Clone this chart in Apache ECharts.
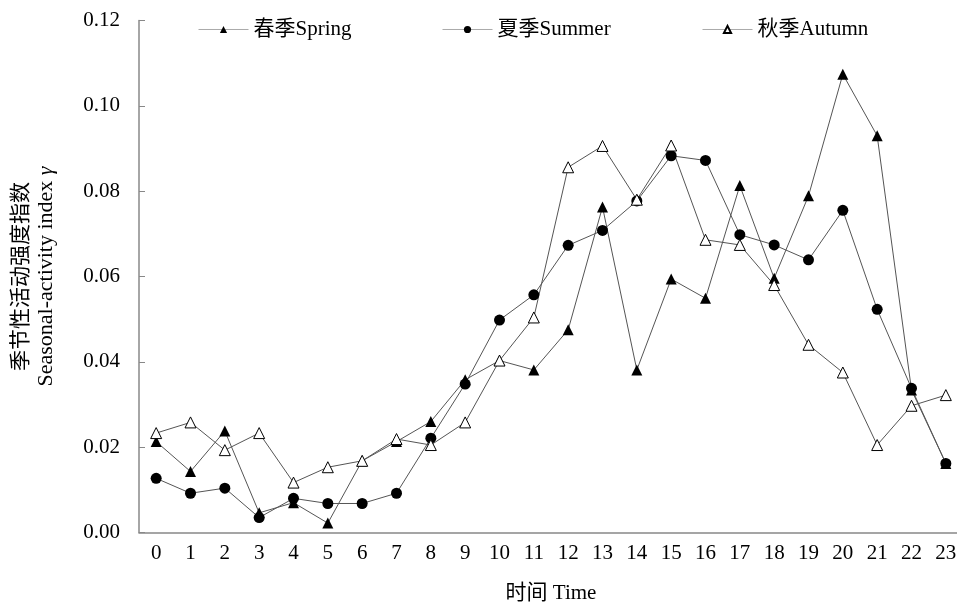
<!DOCTYPE html>
<html>
<head>
<meta charset="utf-8">
<script src="https://cdn.jsdelivr.net/npm/echarts@6/dist/echarts.min.js"></script>
<style>html,body{margin:0;padding:0;background:#fff}#c{width:957px;height:602px}</style>
</head>
<body>
<div id="c"></div>
<script>
var hours = ['0','1','2','3','4','5','6','7','8','9','10','11','12','13','14','15','16','17','18','19','20','21','22','23'];
var spring = [0.0213,0.0143,0.0238,0.0046,0.0070,0.0022,0.0168,0.0213,0.0260,0.0358,0.0403,0.0381,0.0475,0.0763,0.0381,0.0594,0.0549,0.0813,0.0596,0.0789,0.1074,0.0930,0.0334,0.0162];
var summer = [0.0127,0.0092,0.0104,0.0035,0.0080,0.0068,0.0068,0.0092,0.0221,0.0348,0.0498,0.0557,0.0673,0.0708,0.0777,0.0883,0.0872,0.0698,0.0674,0.0639,0.0755,0.0523,0.0338,0.0162];
var autumn = [0.0233,0.0258,0.0193,0.0233,0.0117,0.0153,0.0168,0.0219,0.0205,0.0258,0.0403,0.0504,0.0856,0.0906,0.0780,0.0907,0.0686,0.0674,0.0580,0.0440,0.0375,0.0205,0.0297,0.0322];
var seriesNames = ['春季Spring','夏季Summer','秋季Autumn'];
var yTicks = ['0.00','0.02','0.04','0.06','0.08','0.10','0.12'];

var FONT = '"Liberation Serif","Times New Roman","Noto Sans CJK SC",serif';
var chart = echarts.init(document.getElementById('c'));
function legendOf(name, left) {
  return {
    data: [name], left: left, top: 14, itemWidth: 50, itemHeight: 9, itemGap: 6,
    textStyle: {fontFamily: FONT, fontSize: 21, color: '#000'},
    lineStyle: {color: '#aaa', width: 1}
  };
}
chart.setOption({
  animation: false,
  backgroundColor: '#fff',
  legend: [legendOf(seriesNames[0], 193), legendOf(seriesNames[1], 437), legendOf(seriesNames[2], 697)],
  grid: {left: 139, right: -6, top: 20.5, bottom: 69.5, containLabel: false, outerBoundsMode: 'none'},
  xAxis: {
    type: 'category', data: hours, boundaryGap: true,
    name: '时间 Time', nameLocation: 'middle', nameGap: 50,
    nameTextStyle: {fontFamily: FONT, fontSize: 21, color: '#000'},
    axisLine: {lineStyle: {color: '#888', width: 1.5}},
    axisTick: {inside: true, length: 6, lineStyle: {color: '#888'}},
    axisLabel: {fontFamily: FONT, fontSize: 21, color: '#000', margin: 10},
    splitLine: {show: false}
  },
  yAxis: {
    type: 'value', min: 0, max: 0.12, interval: 0.02,
    name: '{cn|季节性活动强度指数}\n{en|Seasonal-activity index }{it|γ}',
    nameLocation: 'middle', nameRotate: 90, nameGap: 80,
    nameTextStyle: {
      fontFamily: FONT, fontSize: 21, color: '#000', lineHeight: 25,
      rich: {
        cn: {fontFamily: FONT, fontSize: 21, color: '#000', lineHeight: 25},
        en: {fontFamily: FONT, fontSize: 22, color: '#000', lineHeight: 25},
        it: {fontFamily: FONT, fontSize: 22, color: '#000', fontStyle: 'italic', lineHeight: 25}
      }
    },
    axisLine: {show: true, lineStyle: {color: '#888', width: 1.5}},
    axisTick: {show: true, inside: true, length: 6, lineStyle: {color: '#888'}},
    axisLabel: {fontFamily: FONT, fontSize: 21, color: '#000', margin: 19,
      formatter: function (v) { return yTicks[Math.round(v / 0.02)]; }},
    splitLine: {show: false}
  },
  series: [
    {name: seriesNames[0], type: 'line', data: spring, symbol: 'triangle', symbolSize: 11,
      lineStyle: {color: '#555', width: 1}, itemStyle: {color: '#000'}},
    {name: seriesNames[1], type: 'line', data: summer, symbol: 'circle', symbolSize: 11,
      lineStyle: {color: '#555', width: 1}, itemStyle: {color: '#000'}},
    {name: seriesNames[2], type: 'line', data: autumn, symbol: 'triangle', symbolSize: 11,
      lineStyle: {color: '#555', width: 1}, itemStyle: {color: '#fff', borderColor: '#000', borderWidth: 1}}
  ]
});
</script>
</body>
</html>
